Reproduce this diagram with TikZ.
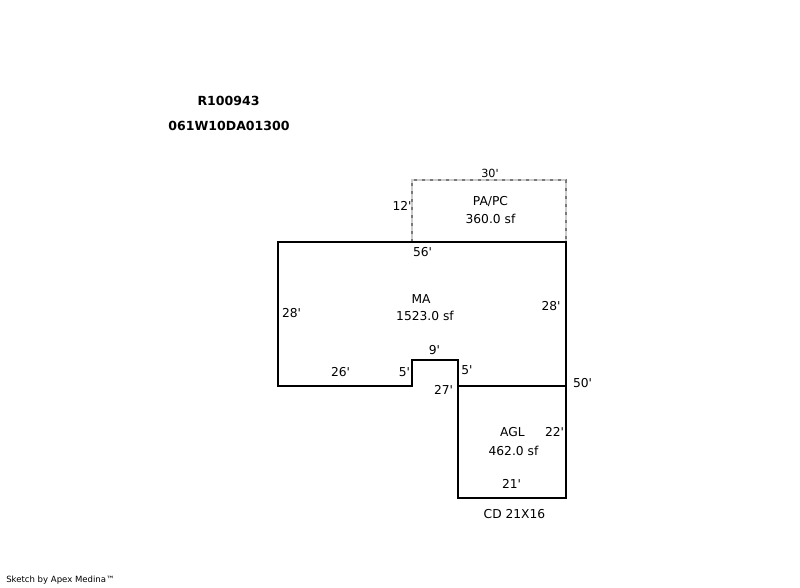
\documentclass[tikz,border=0pt]{standalone}
\usepackage{fontspec}
\setmainfont{DejaVu Sans}[Ligatures=TeXOff]
\tikzset{
  wall/.style={draw=black,line width=1.5pt,line cap=rect,line join=miter},
  porchbase/.style={draw=black!20,line width=1.5pt},
  porch/.style={draw=black!52,line width=1.5pt,dash pattern=on 2.2pt off 3.8pt},
  lbl/.style={font=\fontsize{9.2}{11}\selectfont,text=black,inner sep=0pt,align=center},
  head/.style={font=\fontsize{9.4}{11}\selectfont\bfseries,text=black,inner sep=0pt},
  small/.style={font=\fontsize{6.4}{8}\selectfont,text=black,inner sep=0pt,anchor=west}
}
\begin{document}
\begin{tikzpicture}[x=0.75pt,y=-0.75pt]
\useasboundingbox (0,0) rectangle (800,587);
\fill[white] (0,0) rectangle (800,587);
\draw[porchbase] (412,242) -- (412,180) -- (566,180) -- (566,242);
\draw[porch] (412,242) -- (412,180) -- (566,180) -- (566,242);
\draw[wall] (278,242) -- (566,242) -- (566,498) -- (458,498) -- (458,360) -- (412,360) -- (412,386) -- (278,386) -- cycle;
\draw[wall] (458,386) -- (566,386);
\node[head] (n1) at (228.5,101) {R100943};
\node[head] (n2) at (229,126) {061W10DA01300};
\node[lbl] (n3) at (490,173) {\fontsize{8.4}{10}\selectfont 30'};
\node[lbl] (n4) at (402,206) {12'};
\node[lbl] (n5) at (490.5,202) {PA/PC};
\node[lbl] (n6) at (490.5,219) {360.0 sf};
\node[lbl] (n7) at (422.5,252) {56'};
\node[lbl] (n8) at (291.5,313) {28'};
\node[lbl] (n9) at (551,306) {28'};
\node[lbl] (n10) at (421,299) {MA};
\node[lbl] (n11) at (425,316) {1523.0 sf};
\node[lbl] (n12) at (434.5,350) {9'};
\node[lbl] (n13) at (340.5,372) {26'};
\node[lbl] (n14) at (404.5,372) {5'};
\node[lbl] (n15) at (467,370) {5'};
\node[lbl] (n16) at (443.5,390) {27'};
\node[lbl] (n17) at (582.5,383) {50'};
\node[lbl] (n18) at (512.5,432) {AGL};
\node[lbl] (n19) at (554.5,432) {22'};
\node[lbl] (n20) at (513.5,451) {462.0 sf};
\node[lbl] (n21) at (511.5,484) {21'};
\node[lbl] (n22) at (514.5,514) {CD 21X16};
\node[small] (n23) at (6,580) {Sketch by Apex Medina™};
\end{tikzpicture}
\end{document}
